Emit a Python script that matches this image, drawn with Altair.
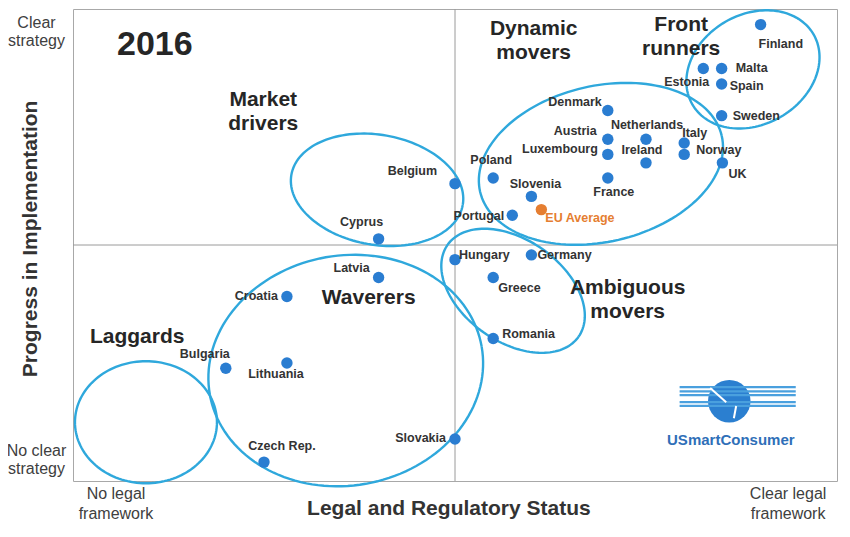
import numpy as np
import pandas as pd
import altair as alt

# ---------------- data ----------------
countries = ["Finland", "Malta", "Estonia", "Spain", "Sweden", "Denmark", "Austria",
             "Netherlands", "Luxembourg", "Ireland", "Italy", "Norway", "UK", "France",
             "Poland", "Slovenia", "Portugal", "Belgium", "Cyprus", "Hungary", "Germany",
             "Greece", "Romania", "Slovakia", "Latvia", "Croatia", "Lithuania", "Bulgaria",
             "Czech Rep.", "EU Average"]
legal_status = [9.0, 8.49, 8.25, 8.49, 8.49, 7.0, 7.0, 7.5, 7.0, 7.5, 8.0, 8.0, 8.5, 7.0,
                5.5, 6.0, 5.75, 5.0, 4.0, 5.0, 6.0, 5.5, 5.5, 5.0, 4.0, 2.8, 2.8, 2.0, 2.5, 6.13]
implementation = [9.67, 8.74, 8.74, 8.41, 7.74, 7.85, 7.24, 7.24, 6.92, 6.74, 7.16, 6.92, 6.74,
                  6.42, 6.42, 6.03, 5.63, 6.30, 5.13, 4.69, 4.79, 4.31, 3.02, 0.89, 4.31, 3.91,
                  2.50, 2.39, 0.40, 5.75]

group_names = ["Dynamic\nmovers", "Front\nrunners", "Market\ndrivers", "Waverers",
               "Laggards", "Ambiguous\nmovers"]
group_x = [6.03, 7.96, 2.49, 3.87, 0.84, 7.26]
group_y = [9.58, 9.66, 8.07, 3.88, 3.05, 4.09]

# cluster ellipses: centre (data units), semi-axes (px), rotation (deg)
ell_names = ["Front runners", "Dynamic movers", "Market drivers", "Waverers", "Laggards", "Ambiguous movers"]
ell_cx = [8.90, 6.91, 3.98, 3.57, 0.955, 5.76]
ell_cy = [8.72, 6.72, 6.17, 2.34, 1.245, 4.03]
ell_a = [70, 124, 87, 138, 71, 80]
ell_b = [55, 78, 55, 115, 61, 51]
ell_rot = [30, 13, -10, 10, 0, -35]

year_label = "2016"
x_title = "Legal and Regulatory Status"
y_title = "Progress in Implementation"
x_end_labels = ["No legal\nframework", "Clear legal\nframework"]
y_end_labels = ["Clear\nstrategy", "No clear\nstrategy"]
logo_text = "USmartConsumer"

# ---------------- layout / style ----------------
W, H = 764, 472
PX_X, PX_Y = W / 10.0, H / 10.0
FONT = "Liberation Sans"
BLUE = "#2A7DD1"
ORANGE = "#E57E31"
RING = "#2FA8DC"

# label placement (pixel offsets from the dot)
label_align = ["left", "left", "right", "left", "left", "right", "right", "center", "right", "center",
               "left", "left", "left", "center", "center", "center", "right", "right", "center", "left",
               "left", "left", "left", "right", "center", "right", "center", "center", "center", "left"]
label_dx = [-2, 14, 6, 8, 11, -6, -11, 1, -10, -4, -2, 12, 6, 6, -2, 4, -8, -18, -17, 4,
            6, 5, 9, -9, -27, -9, -11, -21, 18, 4]
label_dy = [19, 0, 14, 2, 0, -8, -8, -14, -5, -13, -10, -4, 11, 14, -18, -12, 1, -13, -17, -5,
            0, 10, -4, -1, -10, 0, 11, -14, -16, 8]

pts = pd.DataFrame({"name": countries, "x": legal_status, "y": implementation})
pts["kind"] = np.where(pts["name"] == "EU Average", "avg", "country")
pts["align"] = label_align
pts["lx"] = pts["x"] + np.array(label_dx) / PX_X
pts["ly"] = pts["y"] - np.array(label_dy) / PX_Y

rows = []
for n, cx, cy, a, b, r in zip(ell_names, ell_cx, ell_cy, ell_a, ell_b, ell_rot):
    th = np.deg2rad(r)
    t = np.linspace(0, 2 * np.pi, 145)
    ox = a * np.cos(t) * np.cos(th) - b * np.sin(t) * np.sin(th)
    oy = a * np.cos(t) * np.sin(th) + b * np.sin(t) * np.cos(th)
    for i, (u, v) in enumerate(zip(ox, oy)):
        rows.append({"ell": n, "i": i, "x": cx + u / PX_X, "y": cy + v / PX_Y})
ell_df = pd.DataFrame(rows)

groups = pd.DataFrame({"label": group_names, "x": group_x, "y": group_y})

xs = alt.Scale(domain=[0, 10], nice=False, zero=False)
ys = alt.Scale(domain=[0, 10], nice=False, zero=False)


def X(f="x"):
    return alt.X(f"{f}:Q", scale=xs, axis=None)


def Y(f="y"):
    return alt.Y(f"{f}:Q", scale=ys, axis=None)


# quadrant lines
vline = alt.Chart(pd.DataFrame({"x": [5.0]})).mark_rule(color="#9A9A9A", strokeWidth=1).encode(x=X())
hline = alt.Chart(pd.DataFrame({"y": [5.0]})).mark_rule(color="#9A9A9A", strokeWidth=1).encode(y=Y())

rings = alt.Chart(ell_df).mark_line(color=RING, strokeWidth=2.4, clip=False).encode(
    x=X(), y=Y(), detail="ell:N", order="i:Q")

dots = alt.Chart(pts).mark_circle(size=130, opacity=1).encode(
    x=X(), y=Y(),
    color=alt.condition("datum.kind == 'avg'", alt.value(ORANGE), alt.value(BLUE)))

label_layers = []
for al in ["left", "right", "center"]:
    label_layers.append(
        alt.Chart(pts[pts["align"] == al]).mark_text(
            align=al, baseline="middle", font=FONT, fontSize=12.5, fontWeight="bold").encode(
            x=X("lx"), y=Y("ly"), text="name:N",
            color=alt.condition("datum.kind == 'avg'", alt.value(ORANGE), alt.value("#333333"))))

group_text = alt.Chart(groups).mark_text(
    align="center", baseline="middle", font=FONT, fontSize=21, fontWeight="bold",
    color="#262626", lineBreak="\n", lineHeight=24).encode(x=X(), y=Y(), text="label:N")

year = alt.Chart(pd.DataFrame({"x": [0.576], "y": [9.24], "t": [year_label]})).mark_text(
    align="left", baseline="middle", font=FONT, fontSize=34, fontWeight="bold", color="#262626").encode(
    x=X(), y=Y(), text="t:N")

# axis annotations (drawn as text, outside the plot frame)
x_ends = pd.DataFrame({"t": x_end_labels, "x": [0.563, 9.36], "y": [-0.27, -0.27]})
y_ends = pd.DataFrame({"t": y_end_labels, "x": [-0.478, -0.478], "y": [9.71, 0.636]})
x_end_text = alt.Chart(x_ends).mark_text(
    align="center", baseline="middle", font=FONT, fontSize=16, color="#404040",
    lineBreak="\n", lineHeight=20).encode(x=X(), y=Y(), text="t:N")
y_end_text = alt.Chart(y_ends).mark_text(
    align="center", baseline="middle", font=FONT, fontSize=16, color="#404040",
    lineBreak="\n", lineHeight=18).encode(x=X(), y=Y(), text="t:N")
xt = alt.Chart(pd.DataFrame({"t": [x_title], "x": [4.92], "y": [-0.593]})).mark_text(
    align="center", baseline="middle", font=FONT, fontSize=21, fontWeight="bold", color="#333333").encode(
    x=X(), y=Y(), text="t:N")
yt = alt.Chart(pd.DataFrame({"t": [y_title], "x": [-0.55], "y": [5.13]})).mark_text(
    align="center", baseline="middle", font=FONT, fontSize=21, fontWeight="bold", color="#333333",
    angle=270).encode(x=X(), y=Y(), text="t:N")

# logo
globe = alt.Chart(pd.DataFrame({"x": [8.59], "y": [1.69]})).mark_circle(
    size=1810, color="#2B7FD0", opacity=1).encode(x=X(), y=Y())
stripes = alt.Chart(pd.DataFrame({"x": [7.94] * 5, "x2": [9.46] * 5,
                                  "y": [1.99, 1.90, 1.82, 1.67, 1.59]})).mark_rule(
    color="#4AA0DE", strokeWidth=2.2).encode(x=X(), x2="x2:Q", y=Y())
hands = alt.Chart(pd.DataFrame({"x": [8.34, 8.68], "y": [1.97, 1.59],
                                "x2": [8.55, 8.65], "y2": [1.67, 1.33]})).mark_rule(
    color="white", strokeWidth=2).encode(x=X(), y=Y(), x2="x2:Q", y2="y2:Q")
logo_t = alt.Chart(pd.DataFrame({"x": [8.61], "y": [0.86], "t": [logo_text]})).mark_text(
    align="center", baseline="middle", font=FONT, fontSize=15, fontWeight="bold", color="#2F6FB8").encode(
    x=X(), y=Y(), text="t:N")

chart = alt.layer(vline, hline, rings, globe, stripes, hands, logo_t, dots, *label_layers, group_text, year,
                  x_end_text, y_end_text, xt, yt).properties(
    width=W, height=H,
    padding={"left": 65, "top": 1, "right": 5, "bottom": 45},
    autosize=alt.AutoSizeParams(type="none"),
    background="white",
).configure_view(stroke="#A8A8A8", strokeWidth=1)

chart.save("out.html", embed_options={"renderer": "svg", "actions": False})
